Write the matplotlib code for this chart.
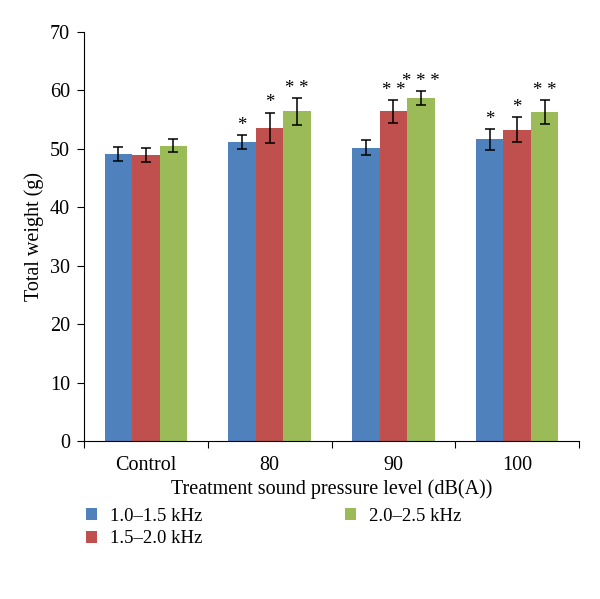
import matplotlib
matplotlib.use("Agg")
import matplotlib.pyplot as plt
import numpy as np

categories = ["Control", "80", "90", "100"]
series_names = ["1.0–1.5 kHz", "1.5–2.0 kHz", "2.0–2.5 kHz"]
low_vals = [49.1, 51.2, 50.2, 51.6]
mid_vals = [48.9, 53.6, 56.4, 53.3]
high_vals = [50.5, 56.4, 58.7, 56.3]
low_err = [1.2, 1.2, 1.3, 1.8]
mid_err = [1.2, 2.6, 2.0, 2.2]
high_err = [1.1, 2.3, 1.2, 2.0]
low_sig = ["", "*", "", "*"]
mid_sig = ["", "*", "* *", "*"]
high_sig = ["", "* *", "* * *", "* *"]
colors = ["#4F81BD", "#C0504D", "#9BBB59"]

plt.rcParams["font.family"] = ["Liberation Serif", "DejaVu Serif"]

fig = plt.figure(figsize=(6.0, 5.99), dpi=100)
ax = fig.add_axes([0.14, 0.2638, 0.825, 0.6828])

x = np.arange(len(categories))
w = 0.222
vals = [low_vals, mid_vals, high_vals]
errs = [low_err, mid_err, high_err]
sigs = [low_sig, mid_sig, high_sig]
for i in range(3):
    pos = x + (i - 1) * w
    ax.bar(pos, vals[i], width=w, color=colors[i], label=series_names[i],
           yerr=errs[i], error_kw=dict(ecolor="black", elinewidth=1.1, capsize=3.6, capthick=1.1))
    for p, v, e, s in zip(pos, vals[i], errs[i], sigs[i]):
        if s:
            ax.text(p, v + e + 0.2, s, ha="center", va="bottom", fontsize=13.5)

ax.set_xlim(-0.5, 3.5)
ax.set_ylim(0, 70)
ax.set_yticks(np.arange(0, 71, 10))
ax.set_xticks(np.arange(-0.5, 3.6, 1.0))
ax.set_xticklabels([])
ax.set_xticks(x, minor=True)
ax.set_xticklabels(categories, minor=True)
ax.tick_params(axis="x", which="minor", length=0, labelsize=14.5, pad=11)
ax.tick_params(axis="x", which="major", length=5, direction="out")
ax.tick_params(axis="y", length=5, labelsize=14.5, pad=5)
for s in ["top", "right"]:
    ax.spines[s].set_visible(False)
ax.set_ylabel("Total weight (g)", fontsize=14.5, labelpad=4)
ax.set_xlabel("Treatment sound pressure level (dB(A))", fontsize=14.5, labelpad=3)

fig.legend(loc="upper left", bbox_to_anchor=(0.13, 0.165), ncol=2, frameon=False,
           fontsize=13.5, handlelength=0.6, handleheight=0.6, handletextpad=0.7,
           columnspacing=7.6, labelspacing=0.3, borderaxespad=0)

fig.savefig("out.png", dpi=100)
